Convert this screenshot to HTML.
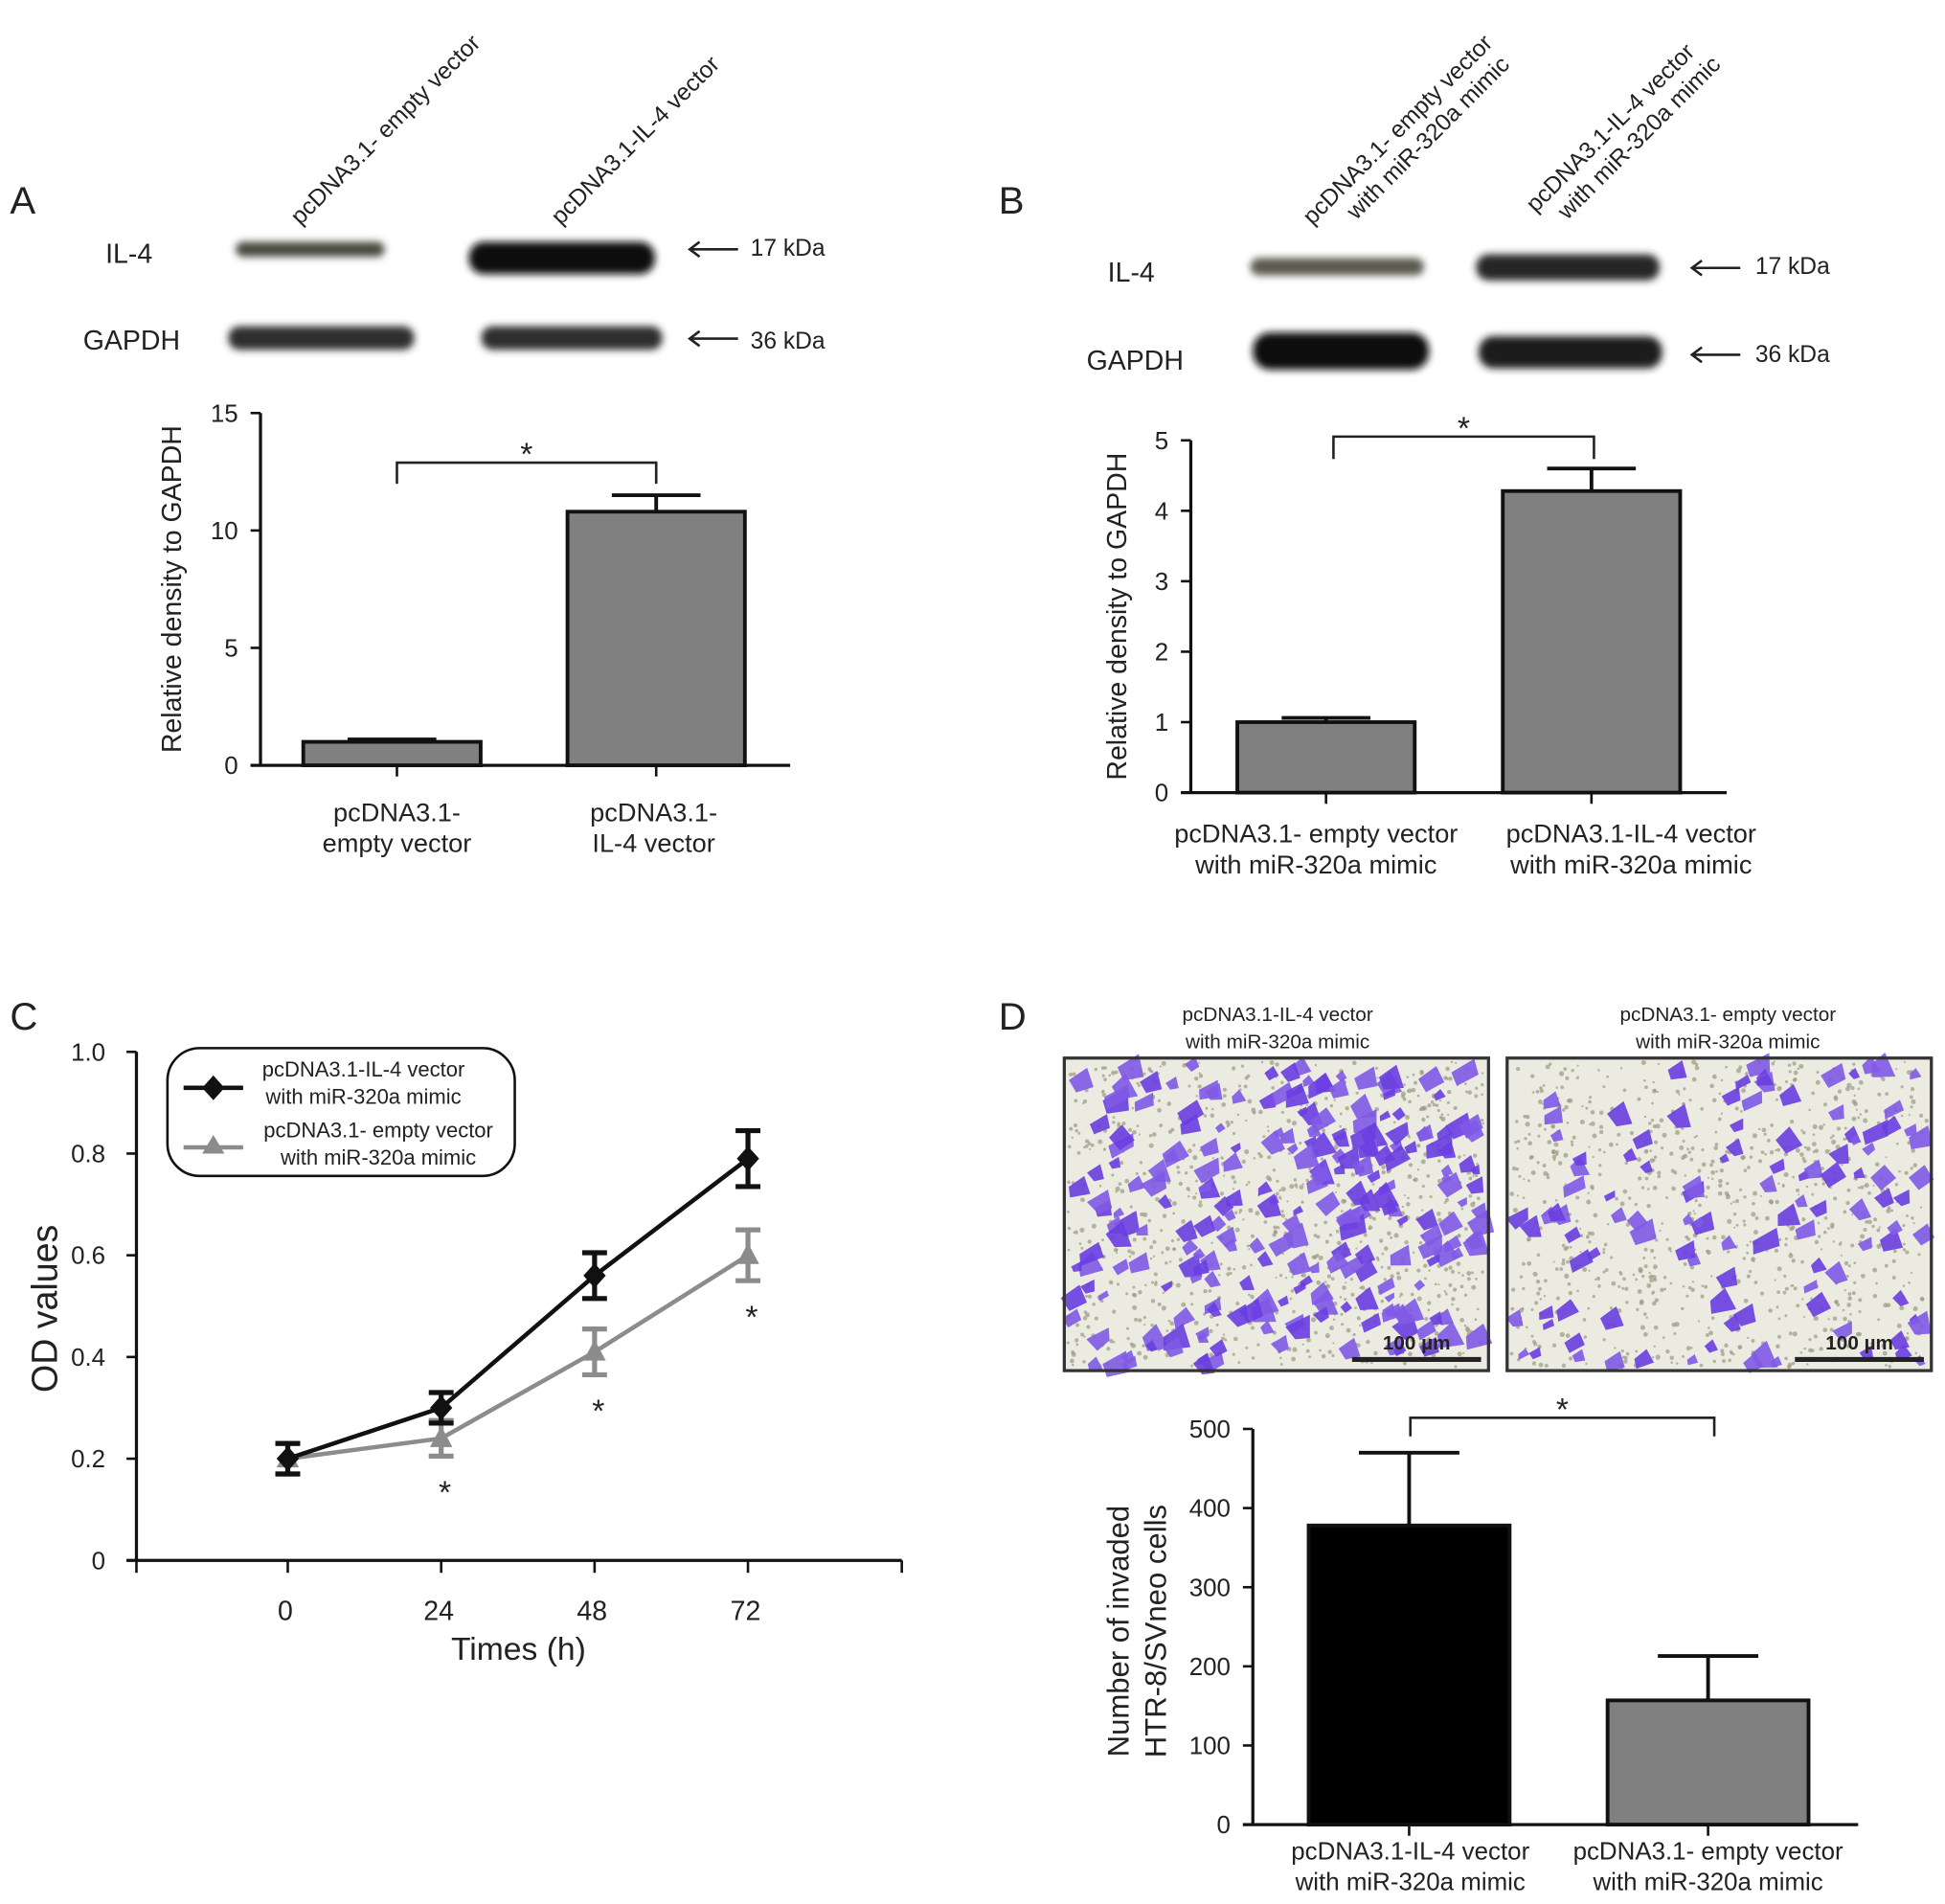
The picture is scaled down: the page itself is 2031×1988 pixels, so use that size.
<!DOCTYPE html>
<html><head><meta charset="utf-8"><style>
html,body{margin:0;padding:0;background:#fff}
svg{display:block}
text{font-family:"Liberation Sans",Arial,sans-serif;fill:#222}
</style></head><body>
<svg id="fig" width="2031" height="1988" viewBox="0 0 1568 1535" preserveAspectRatio="none" xmlns="http://www.w3.org/2000/svg">
<defs>
<filter id="blur" x="-20%" y="-50%" width="140%" height="200%"><feGaussianBlur stdDeviation="3"/></filter>
</defs>
<g id="panelA">
<text x="8" y="172" font-size="31">A</text>
<text transform="translate(242,182) rotate(-45)" font-size="19">pcDNA3.1- empty vector</text>
<text transform="translate(452,182) rotate(-45)" font-size="19">pcDNA3.1-IL-4 vector</text>
<text x="85" y="212" font-size="22">IL-4</text>
<text x="67" y="282" font-size="22">GAPDH</text>
<g filter="url(#blur)">
<rect x="190" y="195" width="120" height="12" rx="6" fill="#4a4a3e"/>
<rect x="378" y="195" width="150" height="26" rx="12" fill="#0e0e0e"/>
<rect x="184" y="263" width="150" height="19" rx="9" fill="#2e2e2e"/>
<rect x="388" y="263" width="146" height="19" rx="9" fill="#2e2e2e"/>
</g>
<g stroke="#222" stroke-width="2" fill="none"><path d="M556,201 H595 M564,195 L556,201 L564,207"/><path d="M556,273 H595 M564,267 L556,273 L564,279"/></g>
<text x="605" y="206" font-size="19">17 kDa</text>
<text x="605" y="281" font-size="19">36 kDa</text>
<g id="chartA"></g>
</g>
<g id="panelB">
<text x="805" y="172" font-size="31">B</text>
<text transform="translate(1058,182) rotate(-45)" font-size="19"><tspan x="0" y="0">pcDNA3.1- empty vector</tspan><tspan x="28" y="22">with miR-320a mimic</tspan></text>
<text transform="translate(1238,172) rotate(-45)" font-size="19"><tspan x="0" y="0">pcDNA3.1-IL-4 vector</tspan><tspan x="14" y="22">with miR-320a mimic</tspan></text>
<text x="893" y="227" font-size="22">IL-4</text>
<text x="876" y="298" font-size="22">GAPDH</text>
<g filter="url(#blur)">
<rect x="1008" y="208" width="140" height="14" rx="7" fill="#5a5a50"/>
<rect x="1190" y="205" width="148" height="21" rx="10" fill="#262626"/>
<rect x="1010" y="268" width="142" height="30" rx="14" fill="#111"/>
<rect x="1192" y="271" width="148" height="26" rx="12" fill="#1a1a1a"/>
</g>
<g stroke="#222" stroke-width="2" fill="none"><path d="M1364,216 H1403 M1372,210 L1364,216 L1372,222"/><path d="M1364,286 H1403 M1372,280 L1364,286 L1372,292"/></g>
<text x="1415" y="221" font-size="19">17 kDa</text>
<text x="1415" y="292" font-size="19">36 kDa</text>
<g id="chartB"></g>
</g>
<g id="panelC">
<text x="8" y="830" font-size="31">C</text>
<g id="chartC"></g>
</g>
<g id="panelD">
<text x="805" y="830" font-size="31">D</text>
<text x="1030" y="823" font-size="16" text-anchor="middle">pcDNA3.1-IL-4 vector</text>
<text x="1030" y="845" font-size="16" text-anchor="middle">with miR-320a mimic</text>
<text x="1393" y="823" font-size="16" text-anchor="middle">pcDNA3.1- empty vector</text>
<text x="1393" y="845" font-size="16" text-anchor="middle">with miR-320a mimic</text>
<g id="micro"></g>
<g id="chartD"></g>
</g>
</svg>
<script>
// ---- data ----
const catsA = ["pcDNA3.1-|empty vector", "pcDNA3.1-|IL-4 vector"];
const valsA = [1.0, 10.8];
const errsA = [0.1, 0.7];
const ticksA = [0, 5, 10, 15];

const catsB = ["pcDNA3.1- empty vector|with miR-320a mimic", "pcDNA3.1-IL-4 vector|with miR-320a mimic"];
const valsB = [1.0, 4.28];
const errsB = [0.06, 0.32];
const ticksB = [0, 1, 2, 3, 4, 5];

const timesC = [0, 24, 48, 72];
const il4C = [0.20, 0.30, 0.56, 0.79];
const il4ErrC = [0.03, 0.03, 0.045, 0.055];
const emptyC = [0.20, 0.24, 0.41, 0.60];
const emptyErrC = [0.03, 0.035, 0.045, 0.05];
const ticksCY = [0, 0.2, 0.4, 0.6, 0.8, 1.0];
const tickLabelsCY = ["0", "0.2", "0.4", "0.6", "0.8", "1.0"];

const catsD = ["pcDNA3.1-IL-4 vector|with miR-320a mimic", "pcDNA3.1- empty vector|with miR-320a mimic"];
const valsD = [378, 157];
const errsD = [92, 56];
const ticksD = [0, 100, 200, 300, 400, 500];

const NS = "http://www.w3.org/2000/svg";
function mk(parent, tag, attrs, txt) {
  const e = document.createElementNS(NS, tag);
  for (const k in attrs) e.setAttribute(k, attrs[k]);
  if (txt !== undefined) e.textContent = txt;
  parent.appendChild(e);
  return e;
}
function lin(d0, d1, r0, r1) { return v => r0 + (v - d0) / (d1 - d0) * (r1 - r0); }

function barChart(g, cfg) {
  const y = lin(cfg.min, cfg.max, cfg.y0, cfg.y1);
  let el = mk(g, "line", {x1: cfg.ax, y1: cfg.y1, x2: cfg.ax, y2: cfg.y0 + 1, stroke: "#111", "stroke-width": 2.5});
  
  
  el = mk(g, "line", {x1: cfg.ax - 8, y1: cfg.y0, x2: cfg.xEnd, y2: cfg.y0, stroke: "#111", "stroke-width": 2.5});
  
  
  cfg.ticks.forEach(t => {
    mk(g, "line", {x1: cfg.ax - 8, y1: y(t), x2: cfg.ax, y2: y(t), stroke: "#111", "stroke-width": 2});
    const tl = mk(g, "text", {x: cfg.ax - 18, y: y(t) + 7, "font-size": cfg.fs, "text-anchor": "end"}, String(t));
    
    
  });
  cfg.vals.forEach((v, i) => {
    const cx = cfg.cx[i], hw = cfg.bw / 2;
    const top = y(v + cfg.errs[i]);
    mk(g, "line", {x1: cx, y1: y(v), x2: cx, y2: top, stroke: "#111", "stroke-width": 3});
    mk(g, "line", {x1: cx - hw * 0.5, y1: top, x2: cx + hw * 0.5, y2: top, stroke: "#111", "stroke-width": 3});
    const b = mk(g, "rect", {x: cx - hw, y: y(v), width: cfg.bw, height: cfg.y0 - y(v), fill: cfg.fills[i], stroke: "#111", "stroke-width": 3});
    
    
    mk(g, "line", {x1: cfg.tx[i], y1: cfg.y0, x2: cfg.tx[i], y2: cfg.y0 + 9, stroke: "#111", "stroke-width": 2});
    const parts = cfg.cats[i].split("|");
    parts.forEach((p, j) => {
      const t = mk(g, "text", {x: cfg.lx[i], y: cfg.ly + j * 25, "font-size": cfg.lfs, "text-anchor": "middle"}, p);
      
      
    });
  });
  const bk = cfg.bracket;
  const p = mk(g, "path", {d: `M${bk.x1},${bk.yb} V${bk.y} H${bk.x2} V${bk.yb}`, fill: "none", stroke: "#222", "stroke-width": 2});
  
  
  const s = mk(g, "text", {x: (bk.x1 + bk.x2) / 2, y: bk.y + 2, "font-size": 26, "text-anchor": "middle"}, "*");
  
  
  cfg.title.forEach((tt, j) => {
    const t = mk(g, "text", {transform: `translate(${cfg.tx0 + j * 30},${cfg.ty}) rotate(-90)`, "font-size": cfg.tfs, "text-anchor": "middle"}, tt);
    
    
  });
}

barChart(document.getElementById("chartA"), {
  min: 0, max: 15, y0: 617, y1: 333, ax: 210, xEnd: 637, ticks: ticksA, fs: 20,
  vals: valsA, errs: errsA, cats: catsA, cx: [316, 529], bw: 143, fills: ["#808080", "#808080"],
  tx: [320, 529], lx: [320, 527], ly: 662, lfs: 21,
  bracket: {x1: 320, x2: 529, y: 373, yb: 390}, title: ["Relative density to GAPDH"], tx0: 146, ty: 475, tfs: 22
});
barChart(document.getElementById("chartB"), {
  min: 0, max: 5, y0: 639, y1: 355, ax: 960, xEnd: 1392, ticks: ticksB, fs: 20,
  vals: valsB, errs: errsB, cats: catsB, cx: [1069, 1283], bw: 143, fills: ["#808080", "#808080"],
  tx: [1069, 1283], lx: [1061, 1315], ly: 679, lfs: 21,
  bracket: {x1: 1075, x2: 1285, y: 352, yb: 370}, title: ["Relative density to GAPDH"], tx0: 908, ty: 497, tfs: 22
});
barChart(document.getElementById("chartD"), {
  min: 0, max: 500, y0: 1471, y1: 1152, ax: 1010, xEnd: 1498, ticks: ticksD, fs: 20,
  vals: valsD, errs: errsD, cats: catsD, cx: [1136, 1377], bw: 162, fills: ["#000", "#808080"],
  tx: [1136, 1377], lx: [1137, 1377], ly: 1499, lfs: 20,
  bracket: {x1: 1137, x2: 1382, y: 1143, yb: 1158}, title: ["Number of invaded", "HTR-8/SVneo cells"], tx0: 910, ty: 1315, tfs: 24
});

// ---- line chart C ----
(function () {
  const g = document.getElementById("chartC");
  const x = lin(0, 72, 232, 603), y = lin(0, 1, 1258, 848);
  let el = mk(g, "line", {x1: 110, y1: 848, x2: 110, y2: 1258, stroke: "#111", "stroke-width": 2.5});
  
  
  el = mk(g, "line", {x1: 102, y1: 1258, x2: 727, y2: 1258, stroke: "#111", "stroke-width": 2.5});
  
  
  ticksCY.forEach((t, i) => {
    mk(g, "line", {x1: 102, y1: y(t), x2: 110, y2: y(t), stroke: "#111", "stroke-width": 2});
    const tl = mk(g, "text", {x: 85, y: y(t) + 7, "font-size": 20, "text-anchor": "end"}, tickLabelsCY[i]);
    
    
  });
  [110, 727].forEach(px => mk(g, "line", {x1: px, y1: 1258, x2: px, y2: 1268, stroke: "#111", "stroke-width": 2}));
  timesC.forEach(t => {
    mk(g, "line", {x1: x(t), y1: 1258, x2: x(t), y2: 1268, stroke: "#111", "stroke-width": 2});
    const tl = mk(g, "text", {x: x(t) - 2, y: 1306, "font-size": 22, "text-anchor": "middle"}, String(t));
    
    
  });
  let t = mk(g, "text", {x: 418, y: 1338, "font-size": 26, "text-anchor": "middle"}, "Times (h)");
  
  
  t = mk(g, "text", {transform: "translate(46,1055) rotate(-90)", "font-size": 29, "text-anchor": "middle"}, "OD values");
  
  

  function series(vals, errs, color, marker, name) {
    const pts = vals.map((v, i) => x(timesC[i]) + "," + y(v)).join(" ");
    const pl = mk(g, "polyline", {points: pts, fill: "none", stroke: color, "stroke-width": 3.5});
    
    
    vals.forEach((v, i) => {
      const cx = x(timesC[i]), lo = y(v - errs[i]), hi = y(v + errs[i]);
      mk(g, "path", {d: `M${cx},${lo} V${hi} M${cx - 10},${hi} H${cx + 10} M${cx - 10},${lo} H${cx + 10}`, stroke: color, "stroke-width": 4, fill: "none"});
      let m;
      if (marker === "d") m = mk(g, "polygon", {points: `${cx},${y(v) - 10} ${cx + 9},${y(v)} ${cx},${y(v) + 10} ${cx - 9},${y(v)}`, fill: color});
      else m = mk(g, "polygon", {points: `${cx},${y(v) - 10} ${cx + 9},${y(v) + 7} ${cx - 9},${y(v) + 7}`, fill: color});
      
      
    });
  }
  series(emptyC, emptyErrC, "#8c8c8c", "t", "empty-vector");
  series(il4C, il4ErrC, "#111", "d", "il4-vector");
  emptyC.forEach((v, i) => {
    if (i === 0) return;
    const s = mk(g, "text", {x: x(timesC[i]) + 3, y: y(v - emptyErrC[i]) + 38, "font-size": 26, "text-anchor": "middle"}, "*");
    
    
  });
  const lg = mk(g, "g", {});
  
  
  mk(lg, "rect", {x: 135, y: 845, width: 280, height: 103, rx: 26, fill: "#fff", stroke: "#111", "stroke-width": 2});
  mk(lg, "line", {x1: 148, y1: 877, x2: 196, y2: 877, stroke: "#111", "stroke-width": 3.5});
  mk(lg, "polygon", {points: "172,867 181,877 172,887 163,877", fill: "#111"});
  mk(lg, "line", {x1: 148, y1: 925, x2: 196, y2: 925, stroke: "#8c8c8c", "stroke-width": 3.5});
  mk(lg, "polygon", {points: "172,915 181,930 163,930", fill: "#8c8c8c"});
  let e = mk(lg, "text", {x: 293, y: 868, "font-size": 17, "text-anchor": "middle"}, "pcDNA3.1-IL-4 vector");
  
  
  mk(lg, "text", {x: 293, y: 890, "font-size": 17, "text-anchor": "middle"}, "with miR-320a mimic");
  e = mk(lg, "text", {x: 305, y: 917, "font-size": 17, "text-anchor": "middle"}, "pcDNA3.1- empty vector");
  
  
  mk(lg, "text", {x: 305, y: 939, "font-size": 17, "text-anchor": "middle"}, "with miR-320a mimic");
})();

// ---- micrographs (decorative texture) ----
(function () {
  const g = document.getElementById("micro");
  let seed = 7;
  function rnd() { seed = (seed * 16807) % 2147483647; return seed / 2147483647; }
  [[858, 1200, 230], [1215, 1557, 110]].forEach(([x0, x1, n], k) => {
    const im = mk(g, "g", {});
    
    
    mk(im, "rect", {x: x0, y: 853, width: x1 - x0, height: 252, fill: "#ebebe2"});
    for (let i = 0; i < 900; i++) {
      mk(im, "circle", {cx: x0 + 3 + rnd() * (x1 - x0 - 6), cy: 856 + rnd() * 246, r: 0.8 + rnd() * 1.2, fill: "#9a9a80", opacity: 0.7});
    }
    for (let i = 0; i < n; i++) {
      const cx = x0 + 6 + rnd() * (x1 - x0 - 12), cy = 858 + rnd() * 242, r = 4 + rnd() * 7;
      mk(im, "polygon", {points: `${cx - r},${cy} ${cx + rnd() * r},${cy - r} ${cx + r},${cy + rnd() * r} ${cx - rnd() * r},${cy + r}`, fill: rnd() > 0.5 ? "#6a3ee0" : "#7f5ae6", opacity: 0.9});
    }
    mk(im, "rect", {x: x0, y: 853, width: x1 - x0, height: 252, fill: "none", stroke: "#333", "stroke-width": 2.5});
    mk(im, "line", {x1: x1 - 110, y1: 1096, x2: x1 - 6, y2: 1096, stroke: "#222", "stroke-width": 4});
    const t = mk(im, "text", {x: x1 - 58, y: 1088, "font-size": 16, "font-weight": "bold", "text-anchor": "middle"}, "100 µm");
    
    
  });
})();
</script>
</body></html>
